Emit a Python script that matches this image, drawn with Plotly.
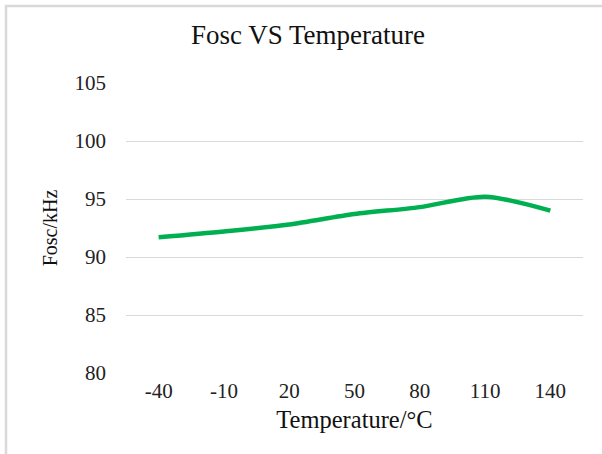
import plotly.graph_objects as go

temperatures = ["-40", "-10", "20", "50", "80", "110", "140"]
fosc_khz = [91.7, 92.2, 92.8, 93.7, 94.3, 95.2, 94.0]
y_ticks = [80, 85, 90, 95, 100, 105]

W, H = 602, 454
L, R, T, B = 126, 19, 83, 81
pw, ph = W - L - R, H - T - B

def px_x(p):
    return (p - L) / pw

def px_y(p):
    return (H - B - p) / ph

font = "Liberation Serif, Times New Roman, serif"

fig = go.Figure()
fig.add_trace(go.Scatter(
    x=temperatures, y=fosc_khz, mode="lines",
    line=dict(color="#00B050", width=4.5, shape="spline", smoothing=0.8),
    showlegend=False, hoverinfo="x+y",
))

fig.update_layout(
    width=W, height=H,
    margin=dict(l=L, r=R, t=T, b=B),
    paper_bgcolor="white", plot_bgcolor="white",
    font=dict(family=font, color="#222222"),
    title=dict(text="Fosc VS Temperature", x=308 / W, xanchor="center",
               y=1 - 35 / H, yanchor="middle", yref="container",
               font=dict(size=27, family=font, color="#111111")),
    xaxis=dict(
        type="category", range=[-0.5, 6.5], showgrid=False, zeroline=False,
        showline=False, ticks="", tickfont=dict(size=21, family=font, color="#222222"),
        ticklabelstandoff=3,
        title=dict(text="Temperature/°C", font=dict(size=24.5, family=font, color="#111111"), standoff=8),
    ),
    yaxis=dict(
        range=[80, 105], tickvals=y_ticks, showgrid=True, gridcolor="#D9D9D9", gridwidth=1.3,
        zeroline=False, showline=False, ticks="",
        tickfont=dict(size=21, family=font, color="#222222"),
        ticklabelstandoff=19,
        title=dict(text="Fosc/kHz", font=dict(size=20, family=font, color="#111111"), standoff=11),
    ),
    shapes=[
        dict(type="line", xref="paper", yref="paper", x0=px_x(5), x1=px_x(602), y0=px_y(6), y1=px_y(6),
             line=dict(color="#D9D9D9", width=2.5)),
        dict(type="line", xref="paper", yref="paper", x0=px_x(6), x1=px_x(6), y0=px_y(5), y1=px_y(454),
             line=dict(color="#D9D9D9", width=2.5)),
    ],
)

fig.write_html("out.html", config={"displayModeBar": False},
               post_script="document.body.style.margin='0';document.body.style.overflow='hidden';")
